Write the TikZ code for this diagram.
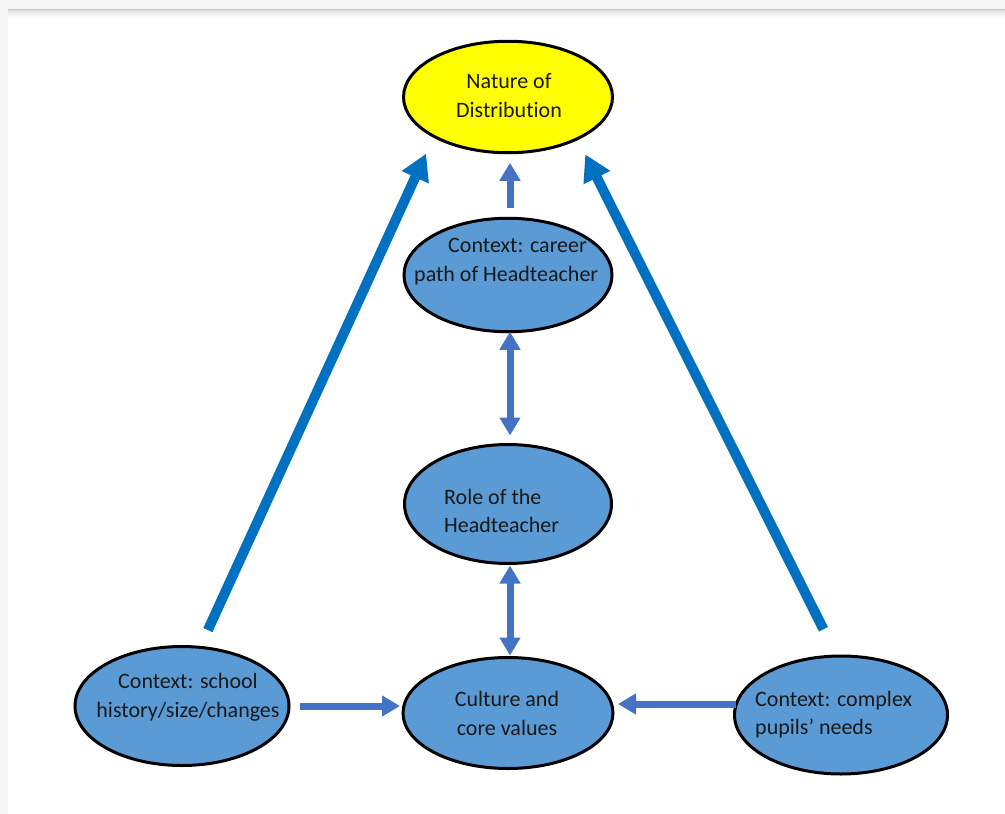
\documentclass[tikz,border=0pt]{standalone}
\usepackage{fontspec}
\setmainfont{Carlito}[Ligatures=NoCommon]
\usetikzlibrary{arrows.meta,shapes.geometric,calc}
\definecolor{bubble}{HTML}{5B9BD5}
\definecolor{sun}{HTML}{FFFF00}
\definecolor{strong}{HTML}{0070C0}
\definecolor{soft}{HTML}{4472C4}
\definecolor{page}{HTML}{F7F7F7}
\begin{document}
\begin{tikzpicture}[x=1pt,y=-1pt,
  oval/.style={ellipse, draw=black, line width=3pt, fill=bubble, inner sep=0pt, outer sep=0pt},
  txt/.style={anchor=base west, inner sep=0pt, font=\fontsize{22}{26}\selectfont, text=black!90},
  txtc/.style={txt, anchor=base},
  bigarrow/.style={draw=strong, line width=10pt, -{Triangle[length=26pt,width=28pt]}},
  smallarrow/.style={draw=soft, line width=7pt, -{Triangle[length=18pt,width=20pt]}},
  twoway/.style={draw=soft, line width=7pt, {Triangle[length=18pt,width=20pt]}-{Triangle[length=18pt,width=20pt]}}]
\useasboundingbox (0,0) rectangle (1005,814);
% page frame
\fill[page] (0,0) rectangle (1005,814);
\fill[white] (8,10) rectangle (1005,814);
\shade[top color=black!12, bottom color=white] (8,10) rectangle (1005,17);
\draw[black!22, line width=1pt] (8,9.5) -- (1005,9.5);

% ellipses
\node[oval, fill=sun, minimum width=209pt, minimum height=111.5pt] (nature) at (508,97) {};
\node[oval, minimum width=208pt, minimum height=113.5pt] (career) at (508,275) {};
\node[oval, minimum width=207pt, minimum height=119pt] (role) at (508,504) {};
\node[oval, minimum width=210pt, minimum height=111pt] (culture) at (508,713) {};
\node[oval, minimum width=214pt, minimum height=119pt] (left) at (182,706) {};
\node[oval, minimum width=213pt, minimum height=118pt] (right) at (841,715) {};

% labels
\node[txtc] (t-nat1) at (509,88) {Nature of};
\node[txtc] (t-nat2) at (509,117) {Distribution};
\node[txt] (t-car1) at (448,252) {Context: career};
\node[txt] (t-car2) at (414,281) {path of Headteacher};
\node[txt] (t-rol1) at (444,504) {Role of the};
\node[txt] (t-rol2) at (444,532) {Headteacher};
\node[txtc] (t-cul1) at (507,706) {Culture and};
\node[txtc] (t-cul2) at (507,735) {core values};
\node[txtc] (t-lef1) at (188,688) {Context: school};
\node[txtc] (t-lef2) at (188,717) {history/size/changes};
\node[txt] (t-rig1) at (755,706) {Context: complex};
\node[txt] (t-rig2) at (755,734) {pupils’ needs};

% long arrows from the context ovals to the top
\draw[bigarrow, shorten <=19pt, shorten >=19pt] (left.73.5) -- (nature.208.4);
\draw[bigarrow, shorten <=30pt, shorten >=17.5pt] (right.94.3) -- (nature.329.3);

% central links
\draw[smallarrow, shorten <=10pt, shorten >=10pt] ($(career.north)+(2,0)$) -- ($(nature.south)+(2,0)$);
\draw[twoway, shorten <=0pt, shorten >=9pt] ($(career.south)+(2,0)$) -- ($(role.north)+(2,0)$);
\draw[twoway, shorten <=2pt, shorten >=2pt] ($(role.south)+(2,0)$) -- ($(culture.north)+(2,0)$);

% side links into the culture oval
\draw[smallarrow, shorten <=11pt, shorten >=3pt] (left.east) -- (left.east -| culture.west);
\draw[smallarrow, shorten >=5pt] (right.174) -- (right.174 -| culture.east);
\end{tikzpicture}
\end{document}
